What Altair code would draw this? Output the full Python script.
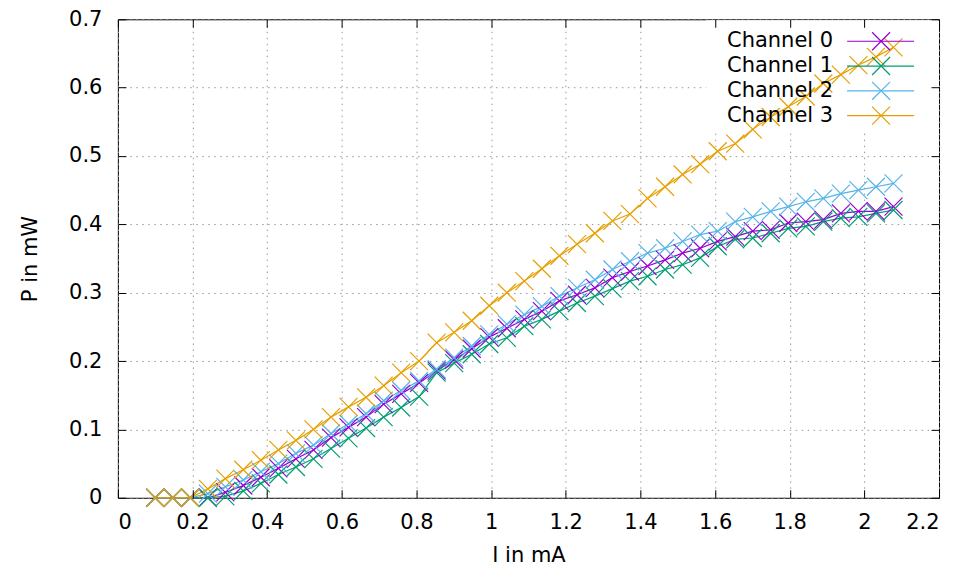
import altair as alt
import pandas as pd

# ---------------- data ----------------
current_mA = [0.100, 0.147, 0.194, 0.241, 0.288, 0.336, 0.383, 0.430, 0.477, 0.524,
              0.571, 0.618, 0.665, 0.712, 0.759, 0.807, 0.854, 0.901, 0.948, 0.995,
              1.042, 1.089, 1.136, 1.183, 1.230, 1.278, 1.325, 1.372, 1.419, 1.466,
              1.513, 1.560, 1.607, 1.654, 1.701, 1.749, 1.796, 1.843, 1.890, 1.937,
              1.984, 2.031, 2.078]

channel_names = ["Channel 0", "Channel 1", "Channel 2", "Channel 3"]

power_ch0 = [0, 0, 0, 0, 0.008, 0.018, 0.030, 0.043, 0.057, 0.070,
             0.088, 0.103, 0.118, 0.137, 0.152, 0.168, 0.186, 0.202, 0.218, 0.235,
             0.248, 0.261, 0.273, 0.288, 0.297, 0.307, 0.322, 0.331, 0.339, 0.348,
             0.358, 0.365, 0.375, 0.382, 0.390, 0.392, 0.402, 0.404, 0.407, 0.416,
             0.419, 0.419, 0.426]

power_ch1 = [0, 0, 0, 0, 0.002, 0.010, 0.021, 0.034, 0.045, 0.057,
             0.072, 0.087, 0.102, 0.118, 0.132, 0.148, 0.183, 0.197, 0.210, 0.225,
             0.234, 0.251, 0.261, 0.273, 0.285, 0.295, 0.306, 0.317, 0.324, 0.334,
             0.341, 0.351, 0.368, 0.378, 0.380, 0.387, 0.394, 0.397, 0.404, 0.409,
             0.411, 0.416, 0.421]

power_ch2 = [0, 0, 0, 0.006, 0.016, 0.026, 0.038, 0.050, 0.065, 0.077,
             0.094, 0.108, 0.123, 0.142, 0.157, 0.171, 0.188, 0.205, 0.222, 0.239,
             0.254, 0.268, 0.280, 0.295, 0.307, 0.319, 0.334, 0.346, 0.358, 0.365,
             0.375, 0.385, 0.390, 0.404, 0.411, 0.419, 0.426, 0.433, 0.438, 0.445,
             0.450, 0.455, 0.460]

power_ch3 = [0, 0, 0, 0.013, 0.028, 0.041, 0.055, 0.070, 0.084, 0.100,
             0.118, 0.133, 0.147, 0.164, 0.183, 0.200, 0.227, 0.242, 0.259, 0.281,
             0.300, 0.317, 0.335, 0.354, 0.371, 0.387, 0.405, 0.415, 0.438, 0.455,
             0.473, 0.488, 0.507, 0.518, 0.539, 0.557, 0.572, 0.587, 0.606, 0.619,
             0.633, 0.645, 0.659]

channel_colors = ["#9400d3", "#009e73", "#56b4e9", "#e69f00"]

x_ticks = [0, 0.2, 0.4, 0.6, 0.8, 1.0, 1.2, 1.4, 1.6, 1.8, 2.0, 2.2]
y_ticks = [0, 0.1, 0.2, 0.3, 0.4, 0.5, 0.6, 0.7]

x_title = "I in mA"
y_title = "P in mW"

# ---------------- table ----------------
rows = []
for name, vals in zip(channel_names, [power_ch0, power_ch1, power_ch2, power_ch3]):
    for i_val, p_val in zip(current_mA, vals):
        rows.append({"I": i_val, "P": p_val, "channel": name})
df = pd.DataFrame(rows)

W, H = 822, 479
FONT = "DejaVu Sans"
FS = 21
CROSS = "M-1,-1L1,1M-1,1L1,-1"

xscale = alt.Scale(domain=[0, 2.2], nice=False, zero=False)
yscale = alt.Scale(domain=[0, 0.7], nice=False, zero=False)
color = alt.Color("channel:N",
                  scale=alt.Scale(domain=channel_names, range=channel_colors),
                  legend=None)

main_x_axis = alt.Axis(values=x_ticks, format=".1~f", title=x_title,
                       grid=True, gridColor="#999999", gridDash=[1.5, 4.5], gridWidth=1,
                       ticks=False, domain=False,
                       labelFont=FONT, labelFontSize=FS, labelColor="black", labelPadding=14,
                       titleFont=FONT, titleFontSize=FS, titleFontWeight="normal",
                       titleColor="black", titlePadding=12)
main_y_axis = alt.Axis(values=y_ticks, format=".1~f", title=y_title,
                       grid=True, gridColor="#999999", gridDash=[1.5, 4.5], gridWidth=1,
                       ticks=False, domain=False,
                       labelFont=FONT, labelFontSize=FS, labelColor="black", labelPadding=16,
                       titleFont=FONT, titleFontSize=FS, titleFontWeight="normal",
                       titleColor="black", titlePadding=28)


def tick_axis(orient, vals):
    return alt.Axis(orient=orient, offset=-8, values=vals, ticks=True, tickSize=8,
                    tickColor="black", tickWidth=1, labels=False, domain=False,
                    grid=False, title=None, zindex=1)


# mask behind the key (gnuplot blanks the grid there)
mask = alt.Chart(pd.DataFrame({"k": [0]})).mark_rect(color="white").encode(
    x=alt.value(589), x2=alt.value(821), y=alt.value(1), y2=alt.value(111))

lines = alt.Chart(df).mark_line(strokeWidth=1.2).encode(
    x=alt.X("I:Q", scale=xscale, axis=main_x_axis),
    y=alt.Y("P:Q", scale=yscale, axis=main_y_axis),
    color=color,
)

points = alt.Chart(df).mark_point(shape=CROSS, size=324, filled=False,
                                  strokeWidth=1.2, opacity=1).encode(
    x=alt.X("I:Q", axis=None),
    y=alt.Y("P:Q", axis=None),
    color=color,
)

ticks_bl = alt.Chart(df).mark_point(opacity=0).encode(
    x=alt.X("I:Q", axis=tick_axis("bottom", x_ticks)),
    y=alt.Y("P:Q", axis=tick_axis("left", y_ticks)),
)
ticks_tr = alt.Chart(df).mark_point(opacity=0).encode(
    x=alt.X("I:Q", axis=tick_axis("top", x_ticks)),
    y=alt.Y("P:Q", axis=tick_axis("right", y_ticks)),
)

legend_layers = []
for k, (name, col) in enumerate(zip(channel_names, channel_colors)):
    ly = 22 + 24.8 * k
    ldf = pd.DataFrame({"label": [name]})
    legend_layers.append(
        alt.Chart(ldf).mark_text(align="right", baseline="middle", font=FONT,
                                 fontSize=FS, color="black").encode(
            text="label:N", x=alt.value(716), y=alt.value(ly)))
    legend_layers.append(
        alt.Chart(ldf).mark_rule(color=col, strokeWidth=1.2).encode(
            x=alt.value(730), x2=alt.value(797), y=alt.value(ly)))
    legend_layers.append(
        alt.Chart(ldf).mark_point(shape=CROSS, size=324, filled=False, color=col,
                                  strokeWidth=1.2, opacity=1).encode(
            x=alt.value(764), y=alt.value(ly)))

chart = alt.layer(mask, lines, points, ticks_bl, ticks_tr, *legend_layers).resolve_axis(
    x="independent", y="independent"
).properties(
    width=W, height=H,
    autosize=alt.AutoSizeParams(type="none"),
    padding={"left": 110, "top": 11, "right": 22, "bottom": 70},
    background="white",
).configure_view(stroke="black", strokeWidth=1)

chart.save("out.html", embed_options={"renderer": "svg", "actions": False})
